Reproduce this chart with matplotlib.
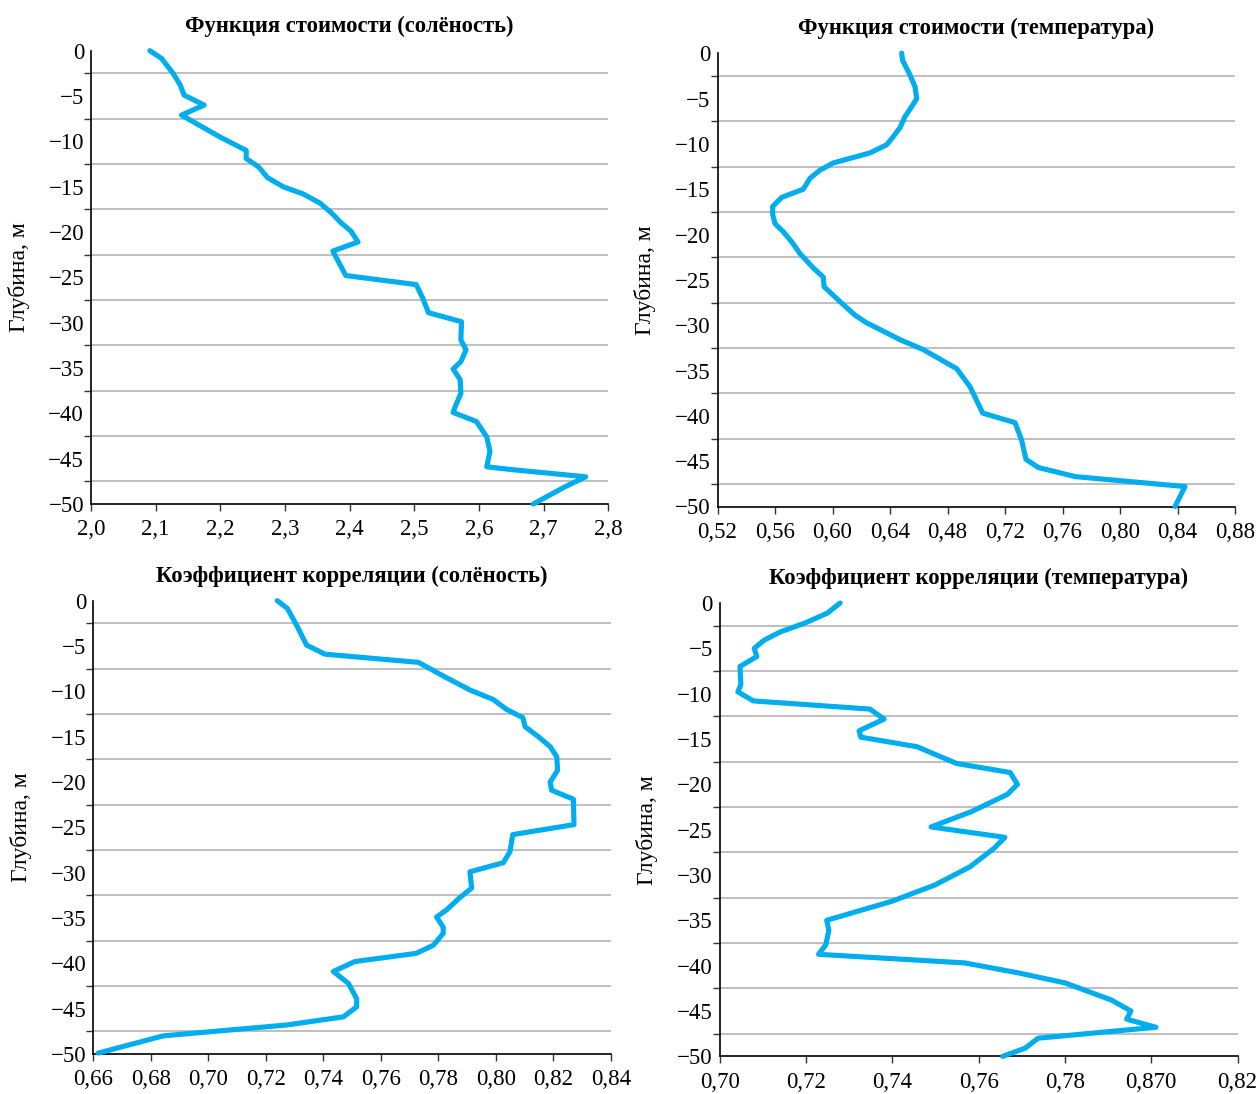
import matplotlib
matplotlib.use("Agg")
import matplotlib.pyplot as plt
import numpy as np

plt.rcParams['font.family'] = ['Liberation Serif', 'DejaVu Serif']

# ---------------- data ----------------
titles = ["Функция стоимости (солёность)", "Функция стоимости (температура)",
          "Коэффициент корреляции (солёность)", "Коэффициент корреляции (температура)"]
ylabel_text = "Глубина, м"

# Panel 1: cost function (salinity)
cost_sal_depth = [0, -0.85, -2.5, -3.8, -4.9, -6.0, -7.1, -9.5, -11.0, -11.9, -12.8, -14.0,
                  -15.0, -15.8, -16.8, -17.9, -19.0, -19.9, -21.1, -22.1, -24.8, -25.8,
                  -27.3, -28.9, -29.9, -31.9, -33.0, -34.3, -35.1, -36.3, -37.8, -39.3,
                  -39.9, -40.9, -42.6, -44.2, -45.9, -46.2, -47.0, -48.1, -50.0]
cost_sal_val = [2.091, 2.109, 2.127, 2.138, 2.144, 2.175, 2.140, 2.199, 2.240, 2.240, 2.259, 2.273,
                2.297, 2.328, 2.354, 2.372, 2.387, 2.402, 2.413, 2.374, 2.394, 2.503,
                2.513, 2.522, 2.573, 2.572, 2.580, 2.572, 2.560, 2.571, 2.572, 2.563,
                2.560, 2.596, 2.612, 2.617, 2.612, 2.650, 2.765, 2.733, 2.684]

# Panel 2: cost function (temperature)
cost_tmp_depth = [0, -0.8, -2.4, -3.7, -5.0, -5.9, -7.0, -8.2, -9.2, -10.1, -11.0, -12.1,
                  -12.9, -13.8, -15.0, -15.9, -16.9, -17.8, -18.8, -19.7, -20.8, -22.1,
                  -23.7, -24.7, -25.75, -27.4, -28.9, -29.7, -31.6, -32.7, -34.8, -36.8,
                  -39.7, -40.75, -42.7, -44.8, -45.7, -46.7, -47.8, -50.0]
cost_tmp_val = [0.6481, 0.6488, 0.6539, 0.6574, 0.6586, 0.6551, 0.6504, 0.6470, 0.6423, 0.6377,
                0.6261, 0.6006, 0.5913, 0.5843, 0.5797, 0.5647, 0.5584, 0.5584, 0.5600, 0.5658,
                0.5716, 0.5774, 0.5867, 0.5936, 0.5941, 0.6052, 0.6157, 0.6233, 0.6470, 0.6632,
                0.6864, 0.6957, 0.7045, 0.7270, 0.7316, 0.7346, 0.7432, 0.7687, 0.8452, 0.8383]

# Panel 3: correlation coefficient (salinity)
corr_sal_depth = [0, -0.85, -2.7, -4.9, -5.9, -6.8, -8.3, -9.85, -10.9, -12.0, -12.9, -13.9,
                  -15.0, -16.1, -17.2, -18.7, -20.0, -20.9, -21.9, -24.7, -25.8, -27.7,
                  -28.9, -29.9, -31.7, -32.8, -34.1, -34.9, -36.0, -36.7, -38.0, -38.9,
                  -39.8, -40.9, -42.2, -43.9, -44.8, -45.9, -46.8, -48.0, -49.9]
corr_sal_val = [0.7240, 0.7275, 0.7307, 0.7342, 0.7406, 0.7731, 0.7817, 0.7910, 0.7991, 0.8038,
                0.8094, 0.8102, 0.8148, 0.8189, 0.8212, 0.8215, 0.8189, 0.8194, 0.8270, 0.8272,
                0.8059, 0.8049, 0.8026, 0.7910, 0.7916, 0.7873, 0.7829, 0.7794, 0.7817, 0.7817,
                0.7783, 0.7723, 0.7510, 0.7435, 0.7487, 0.7516, 0.7516, 0.7470, 0.7273, 0.6843,
                0.6617]

# Panel 4: correlation coefficient (temperature)
corr_tmp_depth = [0, -1.1, -2.2, -3.2, -4.1, -5.0, -5.9, -7.0, -9.0, -9.8, -10.8, -11.7,
                  -12.8, -14.1, -14.8, -15.85, -17.7, -18.7, -20.0, -21.1, -23.0, -24.7,
                  -25.85, -27.05, -29.1, -31.1, -32.9, -35.0, -36.1, -37.7, -38.75, -39.7,
                  -40.8, -41.9, -43.8, -45.0, -45.9, -46.8, -48.0, -49.1, -50.0]
corr_tmp_val = [0.7279, 0.7250, 0.7198, 0.7140, 0.7103, 0.7080, 0.7086, 0.7047, 0.7049, 0.7042,
                0.7078, 0.7348, 0.7381, 0.7323, 0.7327, 0.7457, 0.7549, 0.7673, 0.7690, 0.7667,
                0.7584, 0.7490, 0.7661, 0.7636, 0.7580, 0.7499, 0.7399, 0.7248, 0.7253, 0.7246,
                0.7229, 0.7568, 0.7692, 0.7800, 0.7908, 0.7953, 0.7943, 0.8011, 0.7738, 0.7708,
                0.7656]

# tick values and labels
x1_ticks = [2.0, 2.1, 2.2, 2.3, 2.4, 2.5, 2.6, 2.7, 2.8]
x1_labels = ["2,0", "2,1", "2,2", "2,3", "2,4", "2,5", "2,6", "2,7", "2,8"]
x2_ticks = [0.52, 0.56, 0.60, 0.64, 0.68, 0.72, 0.76, 0.80, 0.84, 0.88]
x2_labels = ["0,52", "0,56", "0,60", "0,64", "0,48", "0,72", "0,76", "0,80", "0,84", "0,88"]
x3_ticks = [0.66, 0.68, 0.70, 0.72, 0.74, 0.76, 0.78, 0.80, 0.82, 0.84]
x3_labels = ["0,66", "0,68", "0,70", "0,72", "0,74", "0,76", "0,78", "0,80", "0,82", "0,84"]
x4_ticks = [0.70, 0.72, 0.74, 0.76, 0.78, 0.80, 0.82]
x4_labels = ["0,70", "0,72", "0,74", "0,76", "0,78", "0,870", "0,82"]

y_label_ticks = [0, -5, -10, -15, -20, -25, -30, -35, -40, -45, -50]
y_labels = ["0", "\u22125", "\u221210", "\u221215", "\u221220", "\u221225", "\u221230",
            "\u221235", "\u221240", "\u221245", "\u221250"]
y_grid_ticks = [-2.5, -7.5, -12.5, -17.5, -22.5, -27.5, -32.5, -37.5, -42.5, -47.5]

# ---------------- figure ----------------
W, H = 1259, 1094
fig = plt.figure(figsize=(W / 100, H / 100), dpi=100)

boxes = [(91, 608.3, 50.7, 504.0),
         (717.5, 1235.0, 53.2, 506.5),
         (93.3, 610.8, 600.7, 1054.0),
         (719.7, 1237.5, 603.0, 1056.3)]

panels = [
    (cost_sal_val, cost_sal_depth, x1_ticks, x1_labels),
    (cost_tmp_val, cost_tmp_depth, x2_ticks, x2_labels),
    (corr_sal_val, corr_sal_depth, x3_ticks, x3_labels),
    (corr_tmp_val, corr_tmp_depth, x4_ticks, x4_labels),
]

line_color = "#00AEEF"
grid_color = "#BFBFBF"

for i, ((xv, yv, xt, xl), (l, r, t, b)) in enumerate(zip(panels, boxes)):
    ax = fig.add_axes([l / W, 1 - b / H, (r - l) / W, (b - t) / H])
    ax.plot(xv, yv, color=line_color, lw=3.7, solid_joinstyle='round',
            solid_capstyle='round', zorder=3, clip_on=False)
    ax.set_xlim(xt[0], xt[-1])
    ax.set_ylim(-50, 0)

    ax.set_xticks(xt)
    ax.set_xticklabels(xl)
    ax.tick_params(axis='x', direction='out', length=5, width=1.0, pad=6,
                   labelsize=16.5, color='#333333')

    ax.set_yticks(y_grid_ticks)
    ax.set_yticklabels([])
    ax.set_yticks(y_label_ticks, minor=True)
    ax.set_yticklabels(y_labels, minor=True)
    ax.tick_params(axis='y', which='major', direction='out', length=5, width=1.0,
                   color='#333333')
    ax.tick_params(axis='y', which='minor', length=0, pad=5, labelsize=16.5)
    ax.grid(axis='y', which='major', color=grid_color, lw=1.4)
    ax.set_axisbelow(True)

    for s in ['top', 'right']:
        ax.spines[s].set_visible(False)
    for s in ['left', 'bottom']:
        ax.spines[s].set_linewidth(1.2)
        ax.spines[s].set_color('black')

    ax.text(0.5, 1.054, titles[i], transform=ax.transAxes, ha='center', va='center',
            fontsize=16.3, fontweight='bold')
    ax.text(-0.14, 0.5, ylabel_text, transform=ax.transAxes, ha='center', va='center',
            rotation=90, fontsize=17)

fig.savefig("out.png", dpi=100)
